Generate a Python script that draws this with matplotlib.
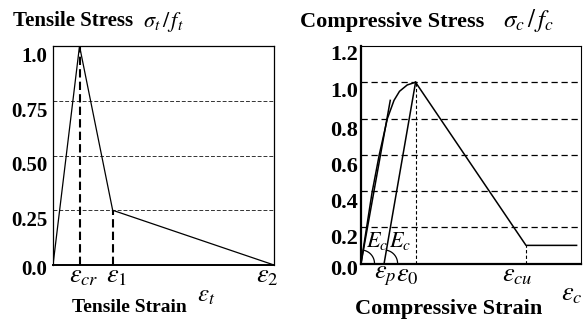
import numpy as np
import matplotlib
matplotlib.use("Agg")
import matplotlib.pyplot as plt
from matplotlib.transforms import ScaledTranslation

plt.rcParams['font.family'] = ['Liberation Serif', 'DejaVu Serif']
plt.rcParams['mathtext.fontset'] = 'stix'

# tension softening (normalised strain, normalised stress)
t_strain = [0.0, 0.12, 0.27, 1.0]
t_stress = [0.0, 1.0, 0.25, 0.0]
t_eps_cr, t_eps_1 = 0.12, 0.27
t_yticks = [0.0, 0.25, 0.50, 0.75, 1.0]
t_ylabels = ['0.0', '0.25', '0.50', '0.75', '1.0']

# compression: rising branch, softening branch, residual plateau
c_rise_x = [0.0, 0.05, 0.083, 0.12, 0.15, 0.175, 0.21, 0.248]
c_rise_y = [0.0, 0.39, 0.60, 0.80, 0.90, 0.95, 0.985, 1.0]
c_soft_x = [0.248, 0.75, 0.98]
c_soft_y = [1.0, 0.10, 0.10]
c_eps_p, c_eps_0, c_eps_cu = 0.105, 0.248, 0.75
c_tangent_x = [0.0, 0.133]
c_tangent_y = [0.0, 0.90]
c_yticks = [0.0, 0.2, 0.4, 0.6, 0.8, 1.0, 1.2]
c_ylabels = ['0.0', '0.2', '0.4', '0.6', '0.8', '1.0', '1.2']

W, H = 585, 324
fig = plt.figure(figsize=(W / 100, H / 100), dpi=100)
ax1 = fig.add_axes([53 / W, 59 / H, 221 / W, 219 / H])
ax2 = fig.add_axes([361 / W, 60.5 / H, 220 / W, 217.5 / H])


def shift(labels, dy_pts):
    for lab, dy in zip(labels, dy_pts):
        lab.set_transform(lab.get_transform() +
                          ScaledTranslation(0, -dy / 72, fig.dpi_scale_trans))


def eps_label(ax, x, text, dx, size):
    ax.annotate(text, xy=(x, 0), xycoords=('data', 'axes fraction'),
                xytext=(dx, -1), textcoords='offset points',
                ha='center', va='top', fontsize=size)


# ---- tensile panel ----
ax1.set_xlim(0, 1)
ax1.set_ylim(0, 1)
for y in t_yticks[1:4]:
    ax1.axhline(y, color='#333333', lw=0.7, ls=(0, (4, 2)))
ax1.plot(t_strain, t_stress, color='black', lw=0.9)
ax1.plot([t_eps_cr, t_eps_cr], [0, 1.0], color='black', lw=1.5, ls=(0, (4, 2)))
ax1.plot([t_eps_1, t_eps_1], [0, 0.25], color='black', lw=1.5, ls=(0, (4, 2)))
ax1.set_xticks([])
ax1.set_yticks(t_yticks)
ax1.set_yticklabels(t_ylabels, fontsize=15, fontweight='bold')
ax1.tick_params(axis='y', length=0, pad=4)
shift(ax1.get_yticklabels(), [1.5, 6, 6, 6, 6])
for s in ax1.spines.values():
    s.set_linewidth(0.9)
ax1.spines['bottom'].set_linewidth(1.4)
eps_label(ax1, t_eps_cr, r'$\varepsilon_{cr}$', 3, 19)
eps_label(ax1, t_eps_1, r'$\varepsilon_{1}$', 2.5, 19)
eps_label(ax1, 1.0, r'$\varepsilon_{2}$', -5, 19)

# ---- compressive panel ----
ax2.set_xlim(0, 1)
ax2.set_ylim(0, 1.2)
for y in c_yticks[1:6]:
    ax2.axhline(y, color='black', lw=0.9, ls=(0, (5, 3)))
ax2.plot(c_rise_x, c_rise_y, color='black', lw=1.1)
ax2.plot(c_soft_x, c_soft_y, color='black', lw=1.1)
ax2.plot(c_tangent_x, c_tangent_y, color='black', lw=1.1)
ax2.plot([c_eps_p, c_eps_0], [0, 1.0], color='black', lw=1.1)
ax2.plot([c_eps_0, c_eps_0], [0, 1.0], color='black', lw=0.8, ls=(0, (3, 2)))
ax2.plot([c_eps_cu, c_eps_cu], [0, 0.10], color='black', lw=0.8, ls=(0, (3, 2)))

# angle arcs marking the initial modulus
fig.canvas.draw()
px_x = ax2.bbox.width / 1.0
px_y = ax2.bbox.height / 1.2
r = 13.5
for x0, (xe, ye) in [(0.0, (c_tangent_x[1], c_tangent_y[1])),
                     (c_eps_p, (c_eps_0, 1.0))]:
    ang = np.arctan2(ye * px_y, (xe - x0) * px_x)
    t = np.linspace(0, ang, 40)
    ax2.plot(x0 + r / px_x * np.cos(t), r / px_y * np.sin(t),
             color='black', lw=0.9)
ax2.text(0.025, 0.125, r'$E_c$', fontsize=16, ha='left', va='center')
ax2.text(0.128, 0.125, r'$E_c$', fontsize=16, ha='left', va='center')

ax2.set_xticks([])
ax2.set_yticks(c_yticks)
ax2.set_yticklabels(c_ylabels, fontsize=16, fontweight='bold')
ax2.tick_params(axis='y', length=0, pad=2)
shift(ax2.get_yticklabels(), [3, 7, 7, 7, 7, 5, 5])
ax2.spines['left'].set_linewidth(1.6)
ax2.spines['bottom'].set_linewidth(1.6)
ax2.spines['right'].set_linewidth(0.8)
ax2.spines['top'].set_linewidth(0.8)
ax2.spines['top'].set_linestyle((0, (3, 1)))
eps_label(ax2, c_eps_p, r'$\varepsilon_{p}$', 0.5, 19)
eps_label(ax2, c_eps_0, r'$\varepsilon_{0}$', -6, 19)
eps_label(ax2, c_eps_cu, r'$\varepsilon_{cu}$', -6, 19)

# axis titles
fig.text(13 / W, 1 - 26 / H, 'Tensile Stress', fontsize=15, fontweight='bold',
         va='baseline')
fig.text(143 / W, 1 - 27 / H, r'$\sigma_t\,/\,f_t$', fontsize=16, va='baseline')
fig.text(72 / W, 1 - 312 / H, 'Tensile Strain', fontsize=14, fontweight='bold',
         va='baseline')
fig.text(197 / W, 1 - 302 / H, r'$\varepsilon_t$', fontsize=18, va='baseline')

fig.text(300 / W, 1 - 26.5 / H, 'Compressive Stress', fontsize=16,
         fontweight='bold', va='baseline')
fig.text(503 / W, 1 - 27 / H, r'$\sigma_c\,/\,f_c$', fontsize=18, va='baseline')
fig.text(355 / W, 1 - 314 / H, 'Compressive Strain', fontsize=16,
         fontweight='bold', va='baseline')
fig.text(561 / W, 1 - 300 / H, r'$\varepsilon_c$', fontsize=19, va='baseline')

fig.savefig('out.png', dpi=100)
